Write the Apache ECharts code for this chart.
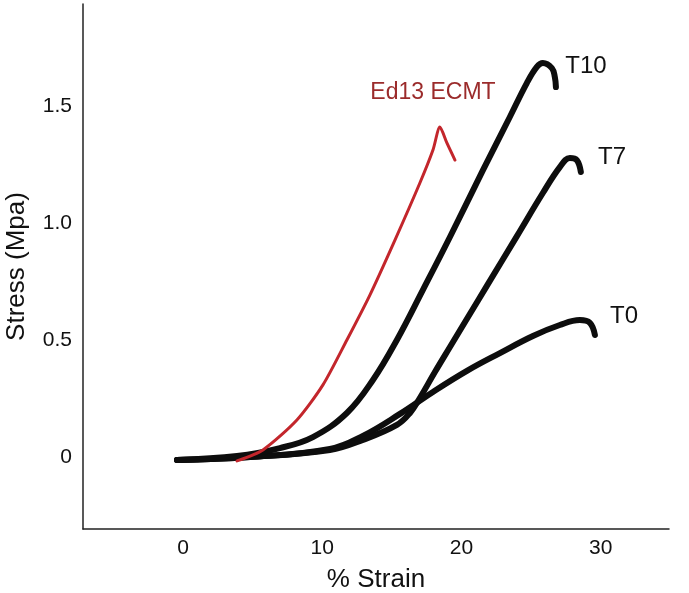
<!DOCTYPE html>
<html>
<head>
<meta charset="utf-8">
<script src="https://cdn.jsdelivr.net/npm/echarts@6/dist/echarts.min.js"></script>
<style>
html,body{margin:0;padding:0;background:#fff;}
#chart{width:689px;height:593px;}
</style>
</head>
<body>
<div id="chart"></div>
<script>
// Data (x = % strain, y = stress in MPa)
var xTicks = [0, 10, 20, 30];
var yTicks = [0, 0.5, 1.0, 1.5];

var t10 = [[-0.43,-0.013],[3.88,0.004],[6.96,0.038],[9.33,0.085],[11.77,0.188],[13.64,0.329],[15.36,0.50],[17.23,0.714],[19.17,0.94],[21.54,1.226],[23.47,1.453],[24.69,1.598],[25.41,1.667],[25.84,1.684],[26.49,1.662],[26.7,1.624],[26.78,1.581]];
var t7 = [[-0.43,-0.013],[4.81,0],[10.55,0.03],[12.92,0.073],[15.36,0.137],[16.3,0.188],[17.01,0.252],[18.09,0.363],[19.17,0.47],[20.6,0.611],[21.82,0.731],[23.98,0.944],[25.84,1.128],[27.06,1.239],[27.78,1.278],[28.28,1.269],[28.57,1.218]];
var t0 = [[-0.43,-0.013],[4.81,0],[10.55,0.034],[12.92,0.09],[15.58,0.184],[17.95,0.278],[20.39,0.368],[22.76,0.444],[25.13,0.517],[27.06,0.564],[28.5,0.585],[29.22,0.573],[29.58,0.521]];
var ed13 = [[3.88,-0.017],[5.74,0.03],[8.18,0.158],[10.05,0.308],[11.77,0.50],[13.42,0.692],[15.22,0.927],[17.01,1.171],[17.95,1.312],[18.45,1.41],[18.95,1.342],[19.53,1.269]];

var seriesNames = ['T10', 'T7', 'T0', 'Ed13 ECMT'];

var chart = echarts.init(document.getElementById('chart'), null, {renderer: 'canvas'});
var FONT = 'Liberation Sans, Arial, Helvetica, sans-serif';

function lineSeries(name, data, color, width, smooth) {
  return {
    name: name, type: 'line', data: data, smooth: smooth,
    showSymbol: false, symbol: 'none',
    lineStyle: {color: color, width: width, cap: 'round', join: 'round'},
    z: 3
  };
}

chart.setOption({
  animation: false,
  backgroundColor: '#ffffff',
  grid: {left: 83, top: 4, right: 20, bottom: 64, containLabel: false, outerBoundsMode: 'none'},
  xAxis: {
    type: 'value', min: -7.18, max: 34.9,
    name: '% Strain', nameLocation: 'middle', nameGap: 38,
    nameTextStyle: {color: '#111', fontSize: 26, fontFamily: FONT},
    axisLine: {show: true, onZero: false, lineStyle: {color: '#222', width: 1.5}},
    axisTick: {show: false},
    splitLine: {show: false},
    axisLabel: {customValues: xTicks, color: '#111', fontSize: 21, fontFamily: FONT, margin: 9}
  },
  yAxis: {
    type: 'value', min: -0.308, max: 1.936,
    name: 'Stress (Mpa)', nameLocation: 'middle', nameGap: 53,
    nameTextStyle: {color: '#111', fontSize: 26, fontFamily: FONT},
    axisLine: {show: true, onZero: false, lineStyle: {color: '#222', width: 1.5}},
    axisTick: {show: false},
    splitLine: {show: false},
    axisLabel: {
      customValues: yTicks, color: '#111', fontSize: 21, fontFamily: FONT, margin: 11,
      formatter: function (v) { return v === 0 ? '0' : v.toFixed(1); }
    }
  },
  series: [
    lineSeries(seriesNames[2], t0, '#0d0d0d', 6, 0.4),
    lineSeries(seriesNames[1], t7, '#0d0d0d', 6, 0.4),
    lineSeries(seriesNames[0], t10, '#0d0d0d', 6, 0.4),
    lineSeries(seriesNames[3], ed13, '#c3262c', 3, 0.25)
  ],
  graphic: [
    {type: 'text', x: 586, y: 66, style: {text: seriesNames[0], fill: '#111', font: '24px ' + FONT, textAlign: 'center', textVerticalAlign: 'middle'}},
    {type: 'text', x: 612, y: 157, style: {text: seriesNames[1], fill: '#111', font: '24px ' + FONT, textAlign: 'center', textVerticalAlign: 'middle'}},
    {type: 'text', x: 624, y: 316, style: {text: seriesNames[2], fill: '#111', font: '24px ' + FONT, textAlign: 'center', textVerticalAlign: 'middle'}},
    {type: 'text', x: 433, y: 93, style: {text: seriesNames[3], fill: '#9b2b2b', font: '23px ' + FONT, textAlign: 'center', textVerticalAlign: 'middle'}}
  ]
});
</script>
</body>
</html>
